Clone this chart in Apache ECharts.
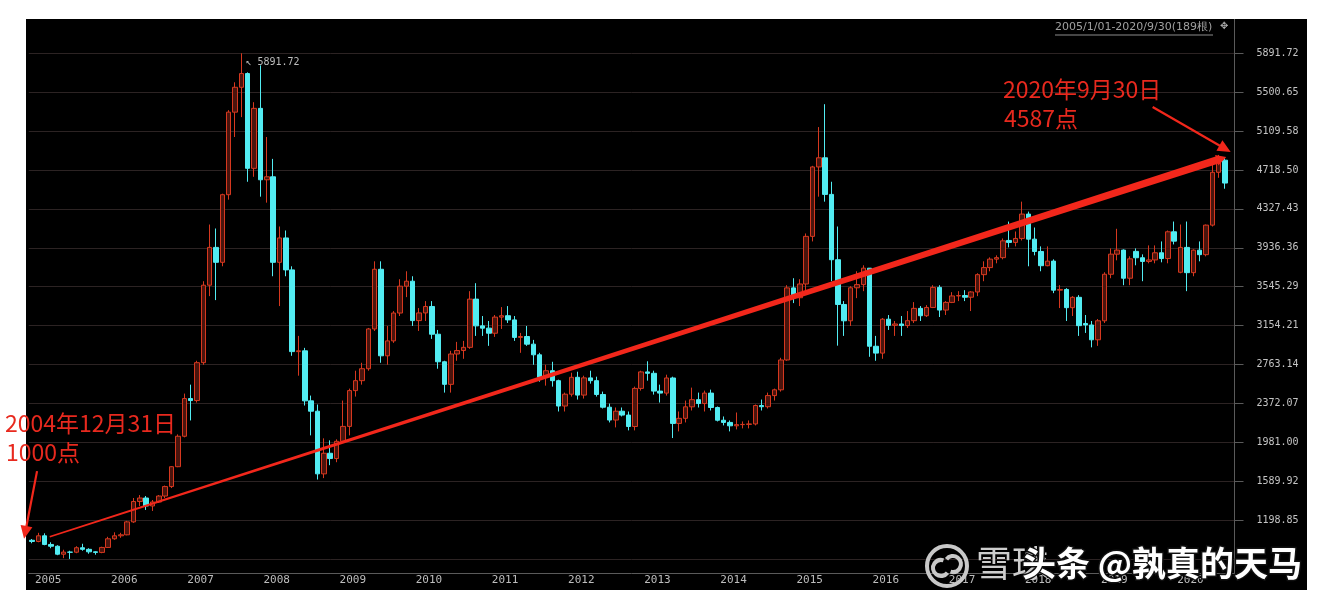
<!DOCTYPE html>
<html><head><meta charset="utf-8">
<script src="https://cdn.jsdelivr.net/npm/echarts@6/dist/echarts.min.js"></script>
<style>
html,body{margin:0;padding:0;background:#fff;}
#panel{position:absolute;left:26px;top:19px;width:1281px;height:571px;background:#000;}
#chart{position:absolute;left:0;top:0;width:1320px;height:608px;}
</style></head><body>
<div id="panel"></div><div id="chart"></div>
<script>
// ---- data: CSI 300 monthly candles [open, close, low, high] ----
const firstYear = 2005, lastYear = 2020, lastMonth = 9;
const k2005 = [[995,983,965,1008],[983,1040,975,1070],[1040,953,945,1065],[953,935,915,975],[935,855,845,945],[855,876,815,900],[876,875,807.78,890],[875,920,865,935],[920,904,890,960],[904,879,860,915],[879,873,850,885],[873,923,865,930]];
const k2006 = [[923,1010,918,1030],[1010,1040,1000,1075],[1040,1050,1020,1070],[1050,1180,1045,1190],[1180,1385,1170,1420],[1385,1420,1340,1450],[1420,1340,1300,1440],[1340,1380,1290,1400],[1380,1440,1370,1450],[1440,1535,1420,1545],[1535,1735,1520,1740],[1735,2041,1730,2060]];
const k2007 = [[2041,2420,2030,2470],[2420,2400,2200,2560],[2400,2781,2380,2800],[2781,3560,2760,3600],[3560,3940,3450,4170],[3940,3790,3410,4130],[3790,4470,3750,4480],[4470,5300,4420,5320],[5300,5550,5050,5600],[5550,5688,5250,5891.72],[5688,4735,4600,5700],[4735,5338,4650,5400]];
const k2008 = [[5338,4620,4450,5770],[4620,4650,4390,5050],[4650,3790,3650,4830],[3790,4035,3350,4150],[4035,3714,3650,4110],[3714,2892,2850,3750],[2892,2900,2650,3050],[2900,2397,2350,2930],[2397,2293,2050,2450],[2293,1663,1606,2360],[1663,1870,1620,2020],[1870,1817,1750,2000]];
const k2009 = [[1817,1990,1780,2010],[1990,2140,1980,2400],[2140,2500,2050,2520],[2500,2600,2440,2700],[2600,2720,2560,2780],[2720,3120,2700,3130],[3120,3720,3100,3800],[3720,2850,2780,3800],[2850,3000,2760,3150],[3000,3280,2980,3300],[3280,3550,3250,3620],[3550,3600,3440,3700]];
const k2010 = [[3600,3204,3150,3650],[3204,3281,3100,3330],[3281,3346,3200,3400],[3346,3067,3020,3400],[3067,2790,2720,3110],[2790,2563,2480,2800],[2563,2868,2480,2900],[2868,2903,2800,2990],[2903,2935,2820,3000],[2935,3420,2920,3500],[3420,3151,3050,3580],[3151,3128,3050,3250]];
const k2011 = [[3128,3077,2950,3200],[3077,3239,3040,3260],[3239,3253,3120,3340],[3253,3211,3180,3350],[3211,3035,3000,3250],[3035,3044,2880,3080],[3044,2967,2950,3150],[2967,2860,2760,3010],[2860,2635,2590,2880],[2635,2700,2550,2760],[2700,2600,2540,2790],[2600,2345,2290,2610]];
const k2012 = [[2345,2464,2290,2480],[2464,2634,2440,2680],[2634,2455,2410,2690],[2455,2628,2420,2650],[2628,2600,2570,2700],[2600,2461,2440,2640],[2461,2333,2320,2490],[2333,2204,2180,2370],[2204,2293,2130,2330],[2293,2254,2240,2330],[2254,2139,2100,2290],[2139,2522,2100,2540]];
const k2013 = [[2522,2688,2500,2700],[2688,2674,2600,2795],[2674,2495,2460,2700],[2495,2475,2380,2560],[2475,2627,2450,2660],[2627,2170,2023,2640],[2170,2221,2090,2290],[2221,2337,2180,2400],[2337,2409,2300,2530],[2409,2370,2330,2480],[2370,2475,2290,2500],[2475,2330,2300,2510]];
const k2014 = [[2330,2202,2190,2340],[2202,2180,2150,2240],[2180,2146,2090,2200],[2146,2158,2110,2280],[2158,2160,2120,2190],[2160,2165,2120,2200],[2165,2350,2150,2360],[2350,2338,2300,2410],[2338,2450,2320,2480],[2450,2508,2400,2520],[2508,2808,2490,2830],[2808,3533,2800,3560]];
const k2015 = [[3533,3434,3380,3630],[3434,3572,3350,3620],[3572,4051,3480,4080],[4051,4749,4000,4760],[4749,4841,4450,5150],[4841,4473,4400,5380],[4473,3816,3600,4600],[3816,3366,2952,4150],[3366,3202,3050,3400],[3202,3534,3150,3550],[3534,3566,3430,3700],[3566,3731,3500,3760]];
const k2016 = [[3731,2946,2840,3730],[2946,2877,2800,3050],[2877,3218,2820,3230],[3218,3156,3110,3260],[3156,3170,3050,3200],[3170,3154,3050,3250],[3154,3203,3130,3300],[3203,3327,3180,3390],[3327,3253,3200,3350],[3253,3336,3240,3360],[3336,3538,3330,3560],[3538,3310,3240,3560]];
const k2017 = [[3310,3387,3260,3400],[3387,3452,3380,3490],[3452,3456,3400,3500],[3456,3439,3400,3510],[3439,3492,3300,3500],[3492,3666,3450,3680],[3666,3737,3600,3800],[3737,3822,3700,3840],[3822,3837,3780,3860],[3837,4006,3820,4030],[4010,3990,3940,4200],[3990,4030,3950,4100]];
const k2018 = [[4030,4275,4010,4400],[4275,4023,3750,4300],[4023,3899,3860,4140],[3899,3756,3700,3950],[3756,3802,3750,3950],[3802,3510,3480,3820],[3510,3517,3330,3560],[3517,3334,3200,3530],[3334,3438,3250,3450],[3438,3153,3050,3460],[3175,3160,3080,3260],[3160,3011,2935,3200]];
const k2019 = [[3011,3202,2950,3220],[3202,3670,3180,3690],[3670,3872,3630,3930],[3872,3913,3810,4127],[3913,3630,3560,3920],[3630,3825,3560,3850],[3900,3836,3760,3930],[3836,3799,3600,3870],[3799,3814,3780,3960],[3814,3886,3780,3960],[3886,3828,3790,4000],[3828,4097,3780,4110]];
const k2020 = [[4097,4003,3970,4200],[3690,3940,3680,4170],[3940,3686,3500,4200],[3686,3912,3650,3920],[3912,3867,3800,4000],[3867,4164,3850,4170],[4164,4695,4150,4800],[4695,4817,4640,4870],[4817,4587,4530,4840]];

// y-axis: 13 equal steps from the all-time low to the all-time high
const yMin = 807.78, yMax = 5891.72, yStepCount = 13;

// annotation lines [xIndex1, value1, xIndex2, value2, kind]  (kind 0: trend, 1: arrow)
const trendLine = [2.8, 1030, 188.2, 4848, 0];
const arrowLeft = [0.8, 1690, -1.25, 1010, 1];
const arrowRight = [176.6, 5352, 188.9, 4900, 1];

const noteLeft = ['2004年12月31日', '1000点'];
const noteRight = ['2020年9月30日', '4587点'];
const headerText = '2005/1/01-2020/9/30(189根)';
const watermarkA = '雪球';
const watermarkB = '头条 @孰真的天马';

// ---- build ----
const candles = [].concat(k2005,k2006,k2007,k2008,k2009,k2010,k2011,k2012,k2013,k2014,k2015,k2016,k2017,k2018,k2019,k2020);
const categories = [];
for (let y = firstYear; y <= lastYear; y++) {
  for (let m = 1; m <= 12; m++) {
    if (y === lastYear && m > lastMonth) break;
    categories.push(y + '-' + (m < 10 ? '0' + m : '' + m));
  }
}
categories.push(''); // right padding band

const yStep = (yMax - yMin) / yStepCount;
let peakIdx = 0;
candles.forEach((c, i) => { if (c[3] > candles[peakIdx][3]) peakIdx = i; });

const RED = '#f2271b';
function renderNote(params, api) {
  const p1 = api.coord([api.value(0), api.value(1)]);
  const p2 = api.coord([api.value(2), api.value(3)]);
  const kind = api.value(4);
  const dx = p2[0]-p1[0], dy = p2[1]-p1[1], L = Math.hypot(dx, dy);
  const ux = dx/L, uy = dy/L, nx = -uy, ny = ux;
  let w1, w2, hl, hw;
  if (kind === 0) { w1 = 0.8; w2 = 3.8; hl = 10; hw = 5.5; }
  else { w1 = 1.1; w2 = 1.1; hl = 13; hw = 6; }
  const b = [p2[0]-ux*hl, p2[1]-uy*hl];
  const pts = [
    [p1[0]+nx*w1, p1[1]+ny*w1],
    [b[0]+nx*w2, b[1]+ny*w2],
    [b[0]+nx*hw, b[1]+ny*hw],
    [p2[0], p2[1]],
    [b[0]-nx*hw, b[1]-ny*hw],
    [b[0]-nx*w2, b[1]-ny*w2],
    [p1[0]-nx*w1, p1[1]-ny*w1]
  ];
  return { type: 'polygon', shape: { points: pts }, style: { fill: RED } };
}

const gridRightX = 1234.5, gridTopY = 53.3, gridBottomY = 558.9;
const chart = echarts.init(document.getElementById('chart'), null, { renderer: 'canvas' });
const noteFont = '"Noto Sans CJK SC", sans-serif';
chart.setOption({
  backgroundColor: 'transparent',
  animation: false,
  grid: { left: 28.8, right: 1320 - gridRightX, top: gridTopY, bottom: 608 - gridBottomY, outerBoundsMode: 'none', containLabel: false },
  xAxis: [{
    type: 'category', data: categories, boundaryGap: true, offset: 14,
    axisLine: { show: true, onZero: false, lineStyle: { color: '#5a5a5a' } },
    axisTick: { show: false },
    axisLabel: {
      interval: (i, v) => v.endsWith('-01'),
      formatter: v => v.slice(0, 4),
      align: 'left', padding: [0, 0, 0, 3], margin: 2,
      color: '#bdbdbd', fontFamily: 'DejaVu Sans Mono', fontSize: 11
    },
    splitLine: { show: false }
  }, {
    type: 'value', min: -0.5, max: categories.length - 0.5, show: false
  }],
  yAxis: {
    type: 'value', position: 'right', min: yMin, max: yMin + yStep * yStepCount, interval: yStep,
    axisLine: { show: true, onZero: false, lineStyle: { color: '#5a5a5a' } },
    axisTick: { show: true, length: 9, lineStyle: { color: '#5a5a5a' } },
    axisLabel: { margin: 22, align: 'left', color: '#c4c4c4', fontFamily: 'DejaVu Sans Mono', fontSize: 10,
      showMinLabel: false, formatter: v => v.toFixed(2) },
    splitLine: { show: true, lineStyle: { color: '#2c2323', width: 1 } }
  },
  series: [{
    type: 'candlestick', data: candles, xAxisIndex: 0, yAxisIndex: 0, barWidth: 5,
    itemStyle: { color: '#4a140d', color0: '#52ecf2', borderColor: '#d6381f', borderColor0: '#52ecf2', borderWidth: 1 },
    emphasis: { disabled: true },
    markPoint: {
      symbol: 'circle', symbolSize: 2, itemStyle: { color: 'rgba(0,0,0,0)' }, silent: true, animation: false,
      label: { show: true, position: 'right', distance: 3, offset: [0, 9], color: '#bdbdbd', fontSize: 10,
        fontFamily: 'DejaVu Sans Mono', formatter: p => '\u2196 ' + Number(p.value).toFixed(2) },
      data: [{ coord: [categories[peakIdx], candles[peakIdx][3]], value: candles[peakIdx][3] }]
    }
  }, {
    type: 'custom', xAxisIndex: 1, yAxisIndex: 0, silent: true, clip: false, z: 5,
    encode: { x: [0, 2], y: [1, 3] },
    data: [trendLine, arrowLeft, arrowRight],
    renderItem: renderNote
  }],
  graphic: [
    { type: 'line', z: 1, shape: { x1: gridRightX, y1: 19, x2: gridRightX, y2: gridTopY }, style: { stroke: '#5a5a5a', lineWidth: 1 } },
    { type: 'line', z: 1, shape: { x1: gridRightX, y1: gridBottomY, x2: gridRightX, y2: 573 }, style: { stroke: '#5a5a5a', lineWidth: 1 } },
    { type: 'text', z: 10, x: 1055, y: 22, style: { text: headerText, fill: '#a0a0a0', fontSize: 11, fontFamily: 'DejaVu Sans' } },
    { type: 'line', z: 10, shape: { x1: 1055, y1: 35, x2: 1213, y2: 35 }, style: { stroke: '#8c8c8c', lineWidth: 1 } },
    { type: 'text', z: 10, x: 1220, y: 21, style: { text: '\u2725', fill: '#aaaaaa', fontSize: 10, fontFamily: 'DejaVu Sans' } },
    { type: 'text', z: 10, x: 5, y: 412, style: { text: noteLeft[0], fill: '#e8291e', fontSize: 23, fontFamily: noteFont } },
    { type: 'text', z: 10, x: 6, y: 441, style: { text: noteLeft[1], fill: '#e8291e', fontSize: 23, fontFamily: noteFont } },
    { type: 'text', z: 10, x: 1003, y: 78, style: { text: noteRight[0], fill: '#e8291e', fontSize: 23, fontFamily: noteFont } },
    { type: 'text', z: 10, x: 1004, y: 107, style: { text: noteRight[1], fill: '#e8291e', fontSize: 23, fontFamily: noteFont } },
    { type: 'circle', z: 20, shape: { cx: 947, cy: 566, r: 20 }, style: { fill: 'none', stroke: '#c8c8c8', lineWidth: 4 } },
    { type: 'arc', z: 20, shape: { cx: 941, cy: 568, r: 8, startAngle: Math.PI * 0.2, endAngle: Math.PI * 1.6 }, style: { fill: 'none', stroke: '#c8c8c8', lineWidth: 4 } },
    { type: 'arc', z: 20, shape: { cx: 953, cy: 564, r: 8, startAngle: Math.PI * 1.2, endAngle: Math.PI * 0.6 }, style: { fill: 'none', stroke: '#c8c8c8', lineWidth: 4 } },
    { type: 'text', z: 20, x: 976, y: 545, style: { text: watermarkA, fill: '#cdcdcd', fontSize: 36, fontFamily: noteFont } },
    { type: 'text', z: 21, x: 1022, y: 546, style: { text: watermarkB, fill: '#ffffff', fontSize: 34, fontWeight: 'bold', fontFamily: noteFont, stroke: '#111', lineWidth: 3 } }
  ]
});
</script>
</body></html>
